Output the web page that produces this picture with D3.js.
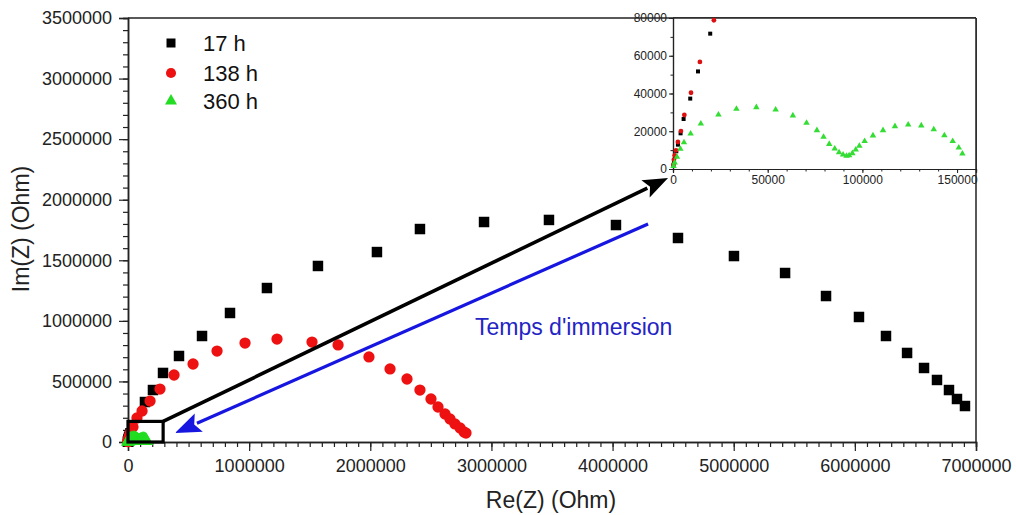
<!DOCTYPE html>
<html>
<head>
<meta charset="utf-8">
<script src="https://cdn.jsdelivr.net/npm/d3@7"></script>
<style>
  html, body { margin: 0; padding: 0; background: #fff; }
  svg { display: block; font-family: "Liberation Sans", Arial, sans-serif; }
</style>
</head>
<body>
<svg id="chart" width="1016" height="515"></svg>
<script>
// ---------- DATA (Re(Z), Im(Z)) in Ohm ----------
const seriesNames = ["17 h", "138 h", "360 h"];
const s17 = [
  [200,1800],[500,4100],[1050,6700],[1750,9400],[2600,12900],[4000,18900],[5600,26500],
  [9100,37300],[13200,51700],[19650,71700],
  [140000,330000],[206000,429000],[289000,570000],[421000,710000],[611000,875000],
  [842000,1065000],[1147000,1271000],[1568000,1453000],[2055000,1568000],[2410000,1758000],
  [2939000,1816000],[3475000,1833000],[4028000,1791000],[4540000,1684000],[5002000,1535000],
  [5424000,1395000],[5762000,1205000],[6034000,1032000],[6257000,875000],[6431000,735000],
  [6571000,611000],[6678000,512000],[6777000,429000],[6843000,355000],[6909000,297000]
];
const s138 = [
  [200,2300],[500,4900],[900,7200],[1600,9900],[2600,14300],[4200,20100],[6000,28600],
  [9500,40400],[14200,56700],[21600,78800],
  [41000,124000],[74000,198000],[116000,256000],[182000,338000],[264000,437000],
  [380000,553000],[537000,644000],[735000,751000],[966000,817000],[1230000,850000],
  [1519000,825000],[1734000,801000],[1989000,702000],[2163000,603000],[2303000,520000],
  [2410000,429000],[2501000,355000],[2559000,289000],[2617000,231000],[2658000,190000],
  [2699000,149000],[2741000,116000],[2774000,83000],[2790000,74000]
];
const s360 = [
  [300,1500],[900,3400],[2100,6400],[3900,10600],[5800,14100],[9300,18700],[14700,24000],
  [24000,28800],[33500,31800],[44000,32700],[54200,31400],[63300,28300],[70500,24400],
  [76000,20500],[79500,17000],[82500,13200],[85400,10800],[87700,8800],[89800,7600],
  [91600,6900],[93000,7200],[94700,8300],[96500,10200],[98400,12200],[101200,14700],
  [105600,17700],[110900,20500],[117200,22600],[124200,23500],[131100,23000],
  [137700,21000],[143300,17800],[147700,14700],[150900,11300],[152800,8100]
];
const xTicksMain = [0,1000000,2000000,3000000,4000000,5000000,6000000,7000000];
const yTicksMain = [0,500000,1000000,1500000,2000000,2500000,3000000,3500000];
const xTicksInset = [0,50000,100000,150000];
const yTicksInset = [0,20000,40000,60000,80000];
const annotationText = "Temps d'immersion";
// annotation anchors in data units (Re, Im)
const zoomBox = [[0,0],[290000,170000]];
const blackArrow = [[290000,170000],[4458000,2179000]];
const blueArrow = [[4293000,1800000],[388000,74000]];
const textAnchor = [2864000,883000];

// ---------- SETUP ----------
const svg = d3.select("#chart");
const colors = ["#000000", "#ee1111", "#22dd22"];
const shapes = [d3.symbolSquare, d3.symbolCircle, d3.symbolTriangle];
const allSeries = [s17, s138, s360];

const x = d3.scaleLinear().domain([0,7000000]).range([128,976]);
const y = d3.scaleLinear().domain([0,3500000]).range([442,18]);

const axisColor = "#222";
const fmt = d3.format("d");

const xMinor = d3.range(0, 7000001, 100000);
const yMinor = d3.range(0, 3500001, 100000);

const gx = svg.append("g").attr("transform", `translate(0,${y(0)})`);
gx.call(d3.axisBottom(x).tickValues(xMinor).tickSize(5).tickFormat(""));
gx.call(g => g.selectAll(".tick text").remove());
const gx2 = svg.append("g").attr("transform", `translate(0,${y(0)})`)
  .call(d3.axisBottom(x).tickValues(xTicksMain).tickSize(9).tickPadding(8).tickFormat(fmt));
[gx, gx2].forEach(g => {
  g.select(".domain").attr("stroke", axisColor).attr("stroke-width", 1.5);
  g.selectAll(".tick line").attr("stroke", axisColor).attr("stroke-width", 1.2);
});
gx2.selectAll(".tick text").attr("font-size", 18).attr("fill", axisColor)
  .attr("font-family", "Liberation Sans, Arial, sans-serif");

const gy = svg.append("g").attr("transform", `translate(${x(0)},0)`);
gy.call(d3.axisLeft(y).tickValues(yMinor).tickSize(5).tickFormat(""));
gy.call(g => g.selectAll(".tick text").remove());
const gy2 = svg.append("g").attr("transform", `translate(${x(0)},0)`)
  .call(d3.axisLeft(y).tickValues(yTicksMain).tickSize(9).tickPadding(7).tickFormat(fmt));
[gy, gy2].forEach(g => {
  g.select(".domain").attr("stroke", axisColor).attr("stroke-width", 1.5);
  g.selectAll(".tick line").attr("stroke", axisColor).attr("stroke-width", 1.2);
});
gy2.selectAll(".tick text").attr("font-size", 18).attr("fill", axisColor)
  .attr("font-family", "Liberation Sans, Arial, sans-serif");

svg.append("line").attr("x1", x(0)).attr("x2", x(7000000)).attr("y1", y(3500000)).attr("y2", y(3500000))
  .attr("stroke", axisColor).attr("stroke-width", 1.5);
svg.append("line").attr("x1", x(7000000)).attr("x2", x(7000000)).attr("y1", y(0)).attr("y2", y(3500000))
  .attr("stroke", axisColor).attr("stroke-width", 1.5);

svg.append("text").attr("x", 551).attr("y", 508).attr("text-anchor", "middle")
  .attr("font-size", 23).attr("fill", axisColor).text("Re(Z) (Ohm)");
svg.append("text").attr("transform", "translate(29,229) rotate(-90)").attr("text-anchor", "middle")
  .attr("font-size", 23).attr("fill", axisColor).text("Im(Z) (Ohm)");

// ---------- MAIN MARKS ----------
const mainSizes = [110, 100, 80];
allSeries.forEach((s, i) => {
  svg.append("g").selectAll("path").data(s).join("path")
    .attr("transform", d => `translate(${x(d[0])},${y(d[1])})`)
    .attr("d", d3.symbol().type(shapes[i]).size(mainSizes[i]))
    .attr("fill", colors[i]);
});

// ---------- ANNOTATIONS ----------
svg.append("rect")
  .attr("x", x(zoomBox[0][0])).attr("y", y(zoomBox[1][1]))
  .attr("width", x(zoomBox[1][0]) - x(zoomBox[0][0]))
  .attr("height", y(zoomBox[0][1]) - y(zoomBox[1][1]))
  .attr("fill", "none").attr("stroke", "#000").attr("stroke-width", 3.2);

function drawArrow(pts, color, width, headLen, headHalf) {
  const [x1, y1] = [x(pts[0][0]), y(pts[0][1])];
  const [x2, y2] = [x(pts[1][0]), y(pts[1][1])];
  const dx = x2 - x1, dy = y2 - y1, L = Math.hypot(dx, dy);
  const ux = dx / L, uy = dy / L;
  const bx = x2 - ux * headLen, by = y2 - uy * headLen;
  svg.append("line").attr("x1", x1).attr("y1", y1).attr("x2", bx + ux * 2).attr("y2", by + uy * 2)
    .attr("stroke", color).attr("stroke-width", width);
  const nx = -uy, ny = ux;
  svg.append("path")
    .attr("d", `M${x2},${y2}L${bx + nx * headHalf},${by + ny * headHalf}L${bx + ux * 5},${by + uy * 5}L${bx - nx * headHalf},${by - ny * headHalf}Z`)
    .attr("fill", color);
}
drawArrow(blackArrow, "#000", 3.6, 25, 9.5);
drawArrow(blueArrow, "#1616e0", 3.2, 26, 10);

svg.append("text").attr("x", x(textAnchor[0])).attr("y", y(textAnchor[1]))
  .attr("font-size", 23).attr("fill", "#2424c4").text(annotationText);

// ---------- LEGEND ----------
const legendSizes = [81, 80, 62];
const legY = [43, 73, 101];
seriesNames.forEach((name, i) => {
  svg.append("path").attr("transform", `translate(171,${legY[i]})`)
    .attr("d", d3.symbol().type(shapes[i]).size(legendSizes[i])).attr("fill", colors[i]);
  svg.append("text").attr("x", 203).attr("y", legY[i] + 8).attr("font-size", 22)
    .attr("fill", "#111").text(name);
});

// ---------- INSET ----------
const xi = d3.scaleLinear().domain([0,160000]).range([673,976]);
const yi = d3.scaleLinear().domain([0,80000]).range([169,18]);
const inset = svg.append("g");
inset.append("rect").attr("x", xi(0)).attr("y", yi(80000)).attr("width", xi(160000) - xi(0))
  .attr("height", yi(0) - yi(80000)).attr("fill", "#fff");

const gix = inset.append("g").attr("transform", `translate(0,${yi(0)})`);
gix.call(d3.axisBottom(xi).tickValues(d3.range(0,160001,10000)).tickSize(2.5).tickFormat(""));
const gix2 = inset.append("g").attr("transform", `translate(0,${yi(0)})`)
  .call(d3.axisBottom(xi).tickValues(xTicksInset).tickSize(4).tickPadding(2).tickFormat(fmt));
const giy = inset.append("g").attr("transform", `translate(${xi(0)},0)`);
giy.call(d3.axisLeft(yi).tickValues(d3.range(0,80001,10000)).tickSize(2.5).tickFormat(""));
const giy2 = inset.append("g").attr("transform", `translate(${xi(0)},0)`)
  .call(d3.axisLeft(yi).tickValues(yTicksInset).tickSize(4).tickPadding(2).tickFormat(fmt));
[gix, gix2, giy, giy2].forEach(g => {
  g.select(".domain").attr("stroke", axisColor).attr("stroke-width", 1.2);
  g.selectAll(".tick line").attr("stroke", axisColor).attr("stroke-width", 1);
});
[gix2, giy2].forEach(g => g.selectAll(".tick text").attr("font-size", 12).attr("fill", axisColor)
  .attr("font-family", "Liberation Sans, Arial, sans-serif"));
inset.append("line").attr("x1", xi(0)).attr("x2", xi(160000)).attr("y1", yi(80000)).attr("y2", yi(80000))
  .attr("stroke", axisColor).attr("stroke-width", 1.5);
inset.append("line").attr("x1", xi(160000)).attr("x2", xi(160000)).attr("y1", yi(0)).attr("y2", yi(80000))
  .attr("stroke", axisColor).attr("stroke-width", 1.5);

const insetSizes = [16, 18, 18];
const insetColors = ["#000000", "#dd1111", "#33dd33"];
allSeries.forEach((s, i) => {
  inset.append("g").selectAll("path")
    .data(s.filter(d => d[0] <= 160000 && d[1] <= 80000)).join("path")
    .attr("transform", d => `translate(${xi(d[0])},${yi(d[1])})`)
    .attr("d", d3.symbol().type(shapes[i]).size(insetSizes[i]))
    .attr("fill", insetColors[i]);
});
</script>
</body>
</html>
